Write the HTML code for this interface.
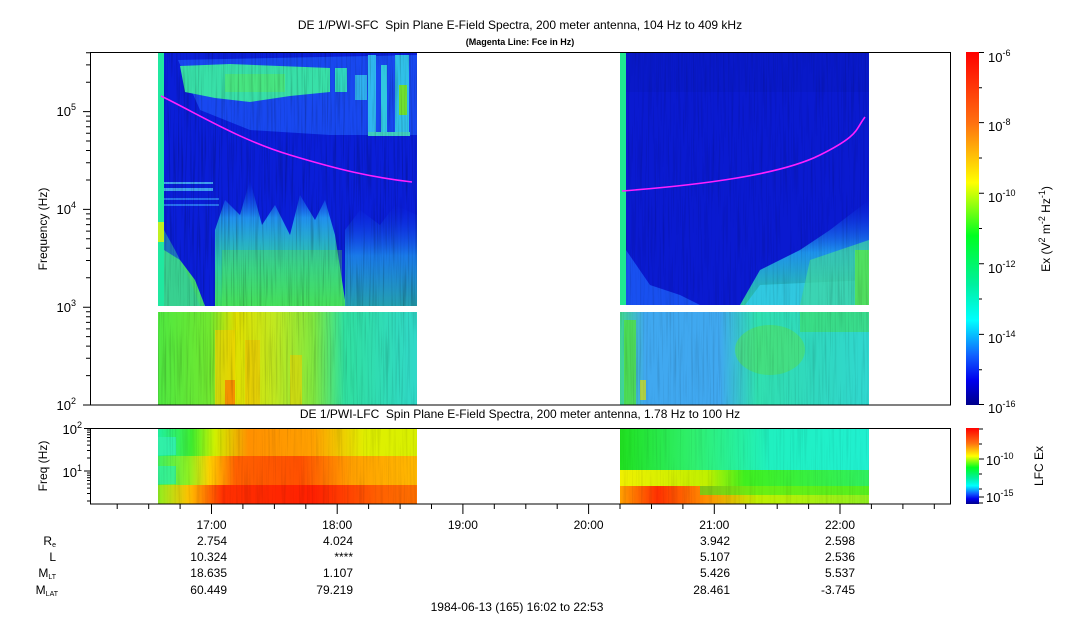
<!DOCTYPE html>
<html><head><meta charset="utf-8"><style>
html,body{margin:0;padding:0;background:#fff;}
svg{display:block;font-family:"Liberation Sans",sans-serif;}
</style></head><body>
<svg width="1083" height="620" viewBox="0 0 1083 620" xmlns="http://www.w3.org/2000/svg">
<defs>
<linearGradient id="cb" x1="0" y1="0" x2="0" y2="1">
<stop offset="0" stop-color="#ff0000"/><stop offset="0.2" stop-color="#ff7010"/>
<stop offset="0.37" stop-color="#ffff00"/><stop offset="0.52" stop-color="#00ff20"/>
<stop offset="0.66" stop-color="#00f0a0"/><stop offset="0.76" stop-color="#00ffff"/>
<stop offset="0.86" stop-color="#1060ff"/><stop offset="0.93" stop-color="#0000ee"/>
<stop offset="1" stop-color="#00008a"/></linearGradient>
<linearGradient id="lfcL" x1="0" y1="0" x2="1" y2="0">
<stop offset="0" stop-color="#40f060"/><stop offset="0.12" stop-color="#90f020"/>
<stop offset="0.2" stop-color="#ffd000"/><stop offset="0.3" stop-color="#ff6000"/>
<stop offset="0.55" stop-color="#ff5000"/><stop offset="0.75" stop-color="#ffa000"/>
<stop offset="1" stop-color="#ffb800"/></linearGradient>
<linearGradient id="lfcLt" x1="0" y1="0" x2="1" y2="0">
<stop offset="0" stop-color="#20f0a0"/><stop offset="0.13" stop-color="#40f030"/>
<stop offset="0.22" stop-color="#d0f000"/><stop offset="0.35" stop-color="#ff9000"/>
<stop offset="0.6" stop-color="#ffa000"/><stop offset="0.8" stop-color="#e0f000"/>
<stop offset="1" stop-color="#d8f000"/></linearGradient>
<linearGradient id="lfcLb" x1="0" y1="0" x2="1" y2="0">
<stop offset="0" stop-color="#90f020"/><stop offset="0.12" stop-color="#ffc000"/>
<stop offset="0.25" stop-color="#ff3000"/><stop offset="0.6" stop-color="#ff2000"/>
<stop offset="0.85" stop-color="#ff6000"/><stop offset="1" stop-color="#ff7000"/></linearGradient>
<linearGradient id="lfcRt" x1="0" y1="0" x2="1" y2="0">
<stop offset="0" stop-color="#20e020"/><stop offset="0.3" stop-color="#30f070"/>
<stop offset="0.6" stop-color="#20f0c0"/><stop offset="1" stop-color="#20f0d0"/></linearGradient>
<linearGradient id="lfcRm" x1="0" y1="0" x2="1" y2="0">
<stop offset="0" stop-color="#f0f000"/><stop offset="0.35" stop-color="#c0f000"/>
<stop offset="0.5" stop-color="#40f020"/><stop offset="1" stop-color="#30f060"/></linearGradient>
<linearGradient id="lfcRb" x1="0" y1="0" x2="1" y2="0">
<stop offset="0" stop-color="#ffa000"/><stop offset="0.15" stop-color="#ff3000"/>
<stop offset="0.35" stop-color="#ff9000"/><stop offset="0.55" stop-color="#c0f000"/>
<stop offset="1" stop-color="#90f020"/></linearGradient>
<linearGradient id="sl" x1="0" y1="0" x2="1" y2="0">
<stop offset="0" stop-color="#50e840"/><stop offset="0.2" stop-color="#70e830"/>
<stop offset="0.3" stop-color="#e0e000"/><stop offset="0.45" stop-color="#c0e820"/>
<stop offset="0.6" stop-color="#80e840"/><stop offset="0.72" stop-color="#30e0a0"/>
<stop offset="1" stop-color="#30d8c8"/></linearGradient>
<linearGradient id="sr" x1="0" y1="0" x2="1" y2="0">
<stop offset="0" stop-color="#40d890"/><stop offset="0.1" stop-color="#40a8f0"/>
<stop offset="0.4" stop-color="#40a8f0"/><stop offset="0.55" stop-color="#30e0b0"/>
<stop offset="0.8" stop-color="#30d8c0"/><stop offset="1" stop-color="#30d8d0"/></linearGradient>
<linearGradient id="gv" x1="0" y1="0" x2="0" y2="1">
<stop offset="0" stop-color="#1040f0" stop-opacity="0"/><stop offset="0.3" stop-color="#2090f0"/>
<stop offset="0.7" stop-color="#30d0a0"/><stop offset="1" stop-color="#40e060"/></linearGradient>
<linearGradient id="gv2" x1="0" y1="0" x2="0" y2="1">
<stop offset="0" stop-color="#1040f0" stop-opacity="0"/><stop offset="0.5" stop-color="#20a0f0"/>
<stop offset="1" stop-color="#30d8a0"/></linearGradient>
<filter id="streak" x="0" y="0" width="1" height="1">
<feTurbulence type="fractalNoise" baseFrequency="0.6 0.015" numOctaves="2" seed="3"/>
<feColorMatrix type="matrix" values="0 0 0 0 0  0 0 0 0 0  0 0 0 0 0  0 0 0 1.6 -0.75"/>
</filter>
</defs>

<!-- titles -->
<text x="520" y="29" font-size="12" text-anchor="middle">DE 1/PWI-SFC&#160; Spin Plane E-Field Spectra, 200 meter antenna, 104 Hz to 409 kHz</text>
<text x="520" y="45" font-size="9" font-weight="bold" text-anchor="middle">(Magenta Line: Fce in Hz)</text>
<text x="520" y="418" font-size="12" text-anchor="middle">DE 1/PWI-LFC&#160; Spin Plane E-Field Spectra, 200 meter antenna, 1.78 Hz to 100 Hz</text>

<!-- LEFT SFC block -->
<rect x="158" y="52" width="259" height="254" fill="#0a1ed8"/>
<path d="M178 60 L417 55 L417 135 L330 135 L250 130 L200 110 Z" fill="#1848f0"/>
<path d="M180 66 L230 64 L330 68 L330 92 L290 96 L250 102 L215 98 L185 92 Z" fill="#38e0a8"/>
<rect x="225" y="74" width="60" height="18" fill="#50e870" opacity="0.7"/>
<rect x="335" y="68" width="12" height="24" fill="#30d8c0"/>
<rect x="355" y="75" width="12" height="25" fill="#30b0f0"/>
<rect x="368" y="55" width="8" height="80" fill="#30b8f0"/>
<rect x="381" y="65" width="6" height="70" fill="#30c8e0"/>
<rect x="395" y="55" width="14" height="80" fill="#30c0e8"/>
<rect x="399" y="85" width="8" height="30" fill="#70e030"/>
<rect x="368" y="132" width="42" height="4" fill="#40d0c0"/>
<rect x="164" y="182" width="49" height="2" fill="#40a0f0"/>
<rect x="164" y="188" width="49" height="3" fill="#40a0f0"/>
<rect x="164" y="198" width="55" height="2" fill="#2870f0"/>
<rect x="164" y="204" width="55" height="2" fill="#2870f0"/>
<path d="M215 306 L215 230 L225 200 L240 215 L250 180 L262 225 L275 205 L290 235 L300 195 L315 220 L325 200 L335 235 L345 300 L345 306 Z" fill="url(#gv)"/>
<path d="M345 306 L345 230 L360 210 L380 225 L395 205 L417 215 L417 306 Z" fill="url(#gv2)" opacity="0.7"/>
<path d="M164 306 L164 250 L180 260 L195 280 L205 306 Z" fill="#40d878"/>
<path d="M164 230 L175 250 L190 280 L200 306 L164 306 Z" fill="#30c8a8" opacity="0.5"/>
<rect x="222" y="250" width="120" height="56" fill="#50e050" opacity="0.35"/>
<rect x="158" y="52" width="259" height="254" filter="url(#streak)" opacity="0.35"/>
<rect x="158" y="52" width="6" height="254" fill="#20e8a0"/>
<rect x="158" y="222" width="6" height="20" fill="#c0f020"/>

<rect x="158" y="312" width="259" height="93" fill="url(#sl)"/>
<rect x="215" y="330" width="20" height="75" fill="#f0d000" opacity="0.7"/>
<rect x="245" y="340" width="15" height="65" fill="#f0c000" opacity="0.6"/>
<rect x="225" y="380" width="10" height="25" fill="#ff6000" opacity="0.6"/>
<rect x="290" y="355" width="12" height="50" fill="#e8d000" opacity="0.6"/>
<rect x="158" y="312" width="259" height="93" filter="url(#streak)" opacity="0.25"/>

<!-- RIGHT SFC block -->
<rect x="620" y="52" width="249" height="253" fill="#0a1ad0"/>
<rect x="626" y="52" width="243" height="40" fill="#0818c0" opacity="0.5"/>
<path d="M740 305 L760 270 L800 250 L830 230 L869 200 L869 305 Z" fill="url(#gv2)" opacity="0.9"/>
<path d="M745 305 L760 285 L869 280 L869 305 Z" fill="#30c8e0"/>
<path d="M800 305 L810 260 L869 240 L869 305 Z" fill="#40d8a0" opacity="0.7"/>
<rect x="855" y="250" width="14" height="55" fill="#50e060"/>
<path d="M626 250 L650 285 L680 295 L700 305 L626 305 Z" fill="#1850f0"/>
<rect x="620" y="52" width="249" height="253" filter="url(#streak)" opacity="0.2"/>
<rect x="620" y="52" width="6" height="253" fill="#20e890"/>

<rect x="620" y="312" width="249" height="93" fill="url(#sr)"/>
<ellipse cx="770" cy="350" rx="35" ry="25" fill="#50e060" opacity="0.6"/>
<rect x="800" y="312" width="69" height="20" fill="#40e060" opacity="0.6"/>
<rect x="624" y="320" width="12" height="85" fill="#50e040" opacity="0.8"/>
<rect x="640" y="380" width="6" height="20" fill="#e0e000" opacity="0.7"/>
<rect x="620" y="312" width="249" height="93" filter="url(#streak)" opacity="0.2"/>

<!-- magenta lines -->
<path d="M161 96 C 200 115, 240 140, 290 155 S 370 177, 412 182" fill="none" stroke="#ff20ff" stroke-width="1.6"/>
<path d="M622 191 C 700 185, 780 175, 820 155 S 855 130, 865 117" fill="none" stroke="#ff20ff" stroke-width="1.6"/>

<!-- main frame -->
<rect x="90.5" y="52.5" width="860" height="352.5" fill="none" stroke="#000" stroke-width="1"/>
<path d="M90 405 h-7 M90 307.2 h-7 M90 209.4 h-7 M90 111.6 h-7
M90 375.6h-4M90 358.3h-4M90 346.1h-4M90 336.6h-4M90 328.9h-4M90 322.4h-4M90 316.7h-4M90 311.7h-4
M90 277.8h-4M90 260.5h-4M90 248.3h-4M90 238.8h-4M90 231.1h-4M90 224.6h-4M90 218.9h-4M90 213.9h-4
M90 180h-4M90 162.7h-4M90 150.5h-4M90 141h-4M90 133.3h-4M90 126.8h-4M90 121.1h-4M90 116.1h-4
M90 82.2h-4M90 64.9h-4M90 52.7h-4" stroke="#000" stroke-width="1"/>
<g font-size="13" text-anchor="end">
<text x="76" y="410">10<tspan font-size="9" dy="-6">2</tspan></text>
<text x="76" y="312">10<tspan font-size="9" dy="-6">3</tspan></text>
<text x="76" y="214">10<tspan font-size="9" dy="-6">4</tspan></text>
<text x="76" y="116">10<tspan font-size="9" dy="-6">5</tspan></text>
</g>
<text transform="translate(47,229) rotate(-90)" font-size="12" text-anchor="middle">Frequency (Hz)</text>

<!-- main colorbar -->
<rect x="966" y="52" width="13" height="353" fill="url(#cb)"/>
<path d="M979 52.5h5M979 87.8h3M979 122.6h5M979 158h3M979 193.2h5M979 228.5h3M979 263.8h5M979 299h3M979 334.4h5M979 369.7h3M979 404.5h5" stroke="#000"/>
<g font-size="13">
<text x="988" y="62">10<tspan font-size="9" dy="-6">-6</tspan></text>
<text x="988" y="131">10<tspan font-size="9" dy="-6">-8</tspan></text>
<text x="988" y="202">10<tspan font-size="9" dy="-6">-10</tspan></text>
<text x="988" y="273">10<tspan font-size="9" dy="-6">-12</tspan></text>
<text x="988" y="343">10<tspan font-size="9" dy="-6">-14</tspan></text>
<text x="988" y="413">10<tspan font-size="9" dy="-6">-16</tspan></text>
</g>
<text transform="translate(1050,229) rotate(-90)" font-size="12" text-anchor="middle">Ex (V<tspan font-size="9" dy="-5">2</tspan><tspan dy="5"> m</tspan><tspan font-size="9" dy="-5">-2</tspan><tspan dy="5"> Hz</tspan><tspan font-size="9" dy="-5">-1</tspan><tspan dy="5">)</tspan></text>

<!-- LFC panel -->
<rect x="158" y="428" width="259" height="76" fill="url(#lfcL)"/>
<rect x="158" y="428" width="259" height="28" fill="url(#lfcLt)"/>
<rect x="158" y="485" width="259" height="19" fill="url(#lfcLb)"/>
<rect x="158" y="437" width="18" height="18" fill="#30f0a8"/>
<rect x="158" y="466" width="18" height="18" fill="#30f0a0" opacity="0.8"/>
<rect x="158" y="428" width="259" height="76" filter="url(#streak)" opacity="0.15"/>
<rect x="620" y="428" width="249" height="42" fill="url(#lfcRt)"/>
<rect x="620" y="470" width="249" height="16" fill="url(#lfcRm)"/>
<rect x="620" y="486" width="249" height="18" fill="url(#lfcRb)"/>
<rect x="700" y="486" width="169" height="9" fill="#30f020" opacity="0.6"/>
<rect x="620" y="428" width="249" height="76" filter="url(#streak)" opacity="0.12"/>
<rect x="90.5" y="428.5" width="860" height="75.5" fill="none" stroke="#000"/>
<path d="M90 428.5h-6M90 471h-6
M90 430h-3M90 432.2h-3M90 434.7h-3M90 437.5h-3M90 441h-3M90 445.1h-3M90 450.5h-3M90 458h-3
M90 473h-3M90 475.2h-3M90 477.7h-3M90 480.5h-3M90 484h-3M90 488.1h-3M90 493.5h-3M90 501h-3" stroke="#000"/>
<g font-size="13" text-anchor="end">
<text x="82" y="434">10<tspan font-size="9" dy="-6">2</tspan></text>
<text x="82" y="477">10<tspan font-size="9" dy="-6">1</tspan></text>
</g>
<text transform="translate(47,466) rotate(-90)" font-size="12" text-anchor="middle">Freq (Hz)</text>
<rect x="966" y="428" width="13" height="76" fill="url(#cb)"/>
<path d="M979 429h4M979 444h3M979 459h5M979 474h3M979 489h3M979 497h5M979 503h4" stroke="#000"/>
<g font-size="13">
<text x="986" y="465">10<tspan font-size="9" dy="-6">-10</tspan></text>
<text x="986" y="502">10<tspan font-size="9" dy="-6">-15</tspan></text>
</g>
<text transform="translate(1043,466) rotate(-90)" font-size="12" text-anchor="middle">LFC Ex</text>

<!-- time ticks -->
<path d="M117.2 504v5M148.7 504v5M180.1 504v5M211.5 504v10M242.9 504v5M274.4 504v5M305.8 504v5M337.2 504v10M368.6 504v5M400.1 504v5M431.5 504v5M462.9 504v10M494.3 504v5M525.8 504v5M557.2 504v5M588.6 504v10M620 504v5M651.5 504v5M682.9 504v5M714.3 504v10M745.7 504v5M777.2 504v5M808.6 504v5M840 504v10M871.4 504v5M902.9 504v5M934.3 504v5" stroke="#000"/>
<g font-size="12" text-anchor="middle">
<text x="211.5" y="529">17:00</text><text x="337.2" y="529">18:00</text>
<text x="462.9" y="529">19:00</text><text x="588.6" y="529">20:00</text>
<text x="714.3" y="529">21:00</text><text x="840" y="529">22:00</text>
</g>
<g font-size="12" text-anchor="end">
<text x="56" y="545">R<tspan font-size="7" dy="2">e</tspan></text>
<text x="56" y="561">L</text>
<text x="56" y="577">M<tspan font-size="7" dy="2">LT</tspan></text>
<text x="58" y="594">M<tspan font-size="7" dy="2">LAT</tspan></text>
<text x="227" y="545">2.754</text><text x="353" y="545">4.024</text>
<text x="730" y="545">3.942</text><text x="855" y="545">2.598</text>
<text x="227" y="561">10.324</text><text x="353" y="561">****</text>
<text x="730" y="561">5.107</text><text x="855" y="561">2.536</text>
<text x="227" y="577">18.635</text><text x="353" y="577">1.107</text>
<text x="730" y="577">5.426</text><text x="855" y="577">5.537</text>
<text x="227" y="594">60.449</text><text x="353" y="594">79.219</text>
<text x="730" y="594">28.461</text><text x="855" y="594">-3.745</text>
</g>
<text x="517" y="611" font-size="12" text-anchor="middle">1984-06-13 (165) 16:02 to 22:53</text>
</svg>
</body></html>
